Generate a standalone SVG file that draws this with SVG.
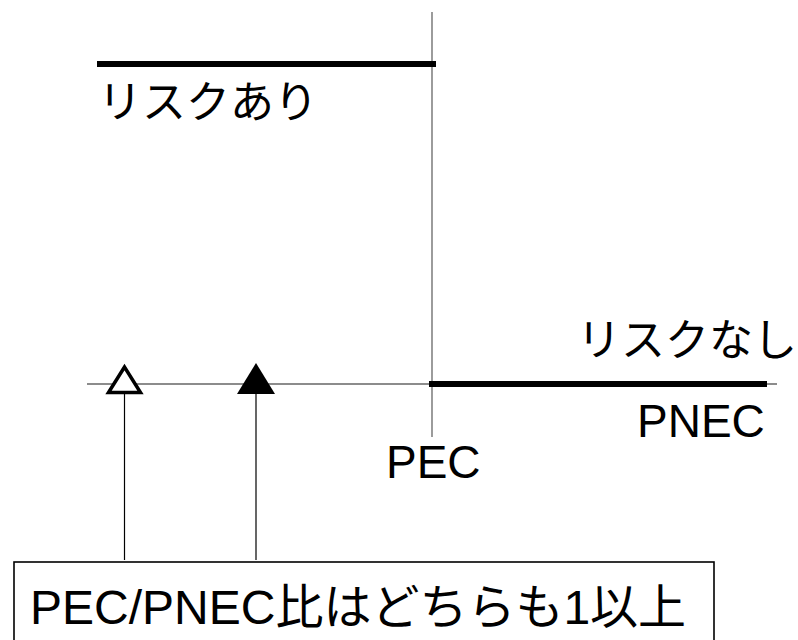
<svg xmlns="http://www.w3.org/2000/svg" width="798" height="640" viewBox="0 0 798 640">
<style>
text{font-family:"Liberation Sans","Noto Sans CJK JP",sans-serif;fill:#000}
.axis{stroke:#666;stroke-width:1.3;fill:none}
.thick{stroke:#000;stroke-width:6;fill:none}
.lead{stroke:#000;stroke-width:1.2;fill:none}
.lbl{font-size:46px}
.jp{font-size:44px}
.note{font-size:48px}
</style>
<rect width="798" height="640" fill="#fff"/>
<g id="axes">
<line class="axis" x1="432" y1="12" x2="432" y2="437"/>
<line class="axis" x1="87" y1="384" x2="777" y2="384"/>
</g>
<g id="risk-high">
<line class="thick" x1="97" y1="64" x2="436" y2="64"/>
<text class="jp" x="98" y="118">リスクあり</text>
</g>
<g id="risk-none">
<line class="thick" x1="429" y1="384" x2="767" y2="384"/>
<text class="jp" x="797" y="356" text-anchor="end">リスクなし</text>
<text class="lbl" x="637" y="437">PNEC</text>
</g>
<g id="pec-label">
<text class="lbl" x="386" y="478">PEC</text>
</g>
<g id="tri-open">
<polygon points="124.5,367 108.5,392.5 140.5,392.5" fill="#fff" stroke="#000" stroke-width="3.5"/>
</g>
<g id="tri-filled">
<polygon points="256,363 237,394 275,394" fill="#000"/>
</g>
<g id="connectors">
<line class="lead" x1="124.5" y1="394" x2="124.5" y2="560"/>
<line class="lead" x1="256" y1="394" x2="256" y2="560"/>
</g>
<g id="note">
<rect x="14" y="562" width="700" height="92" fill="#fff" stroke="#000" stroke-width="1.6"/>
<text class="note" x="30" y="624">PEC/PNEC比はどちらも1以上</text>
</g>
</svg>
